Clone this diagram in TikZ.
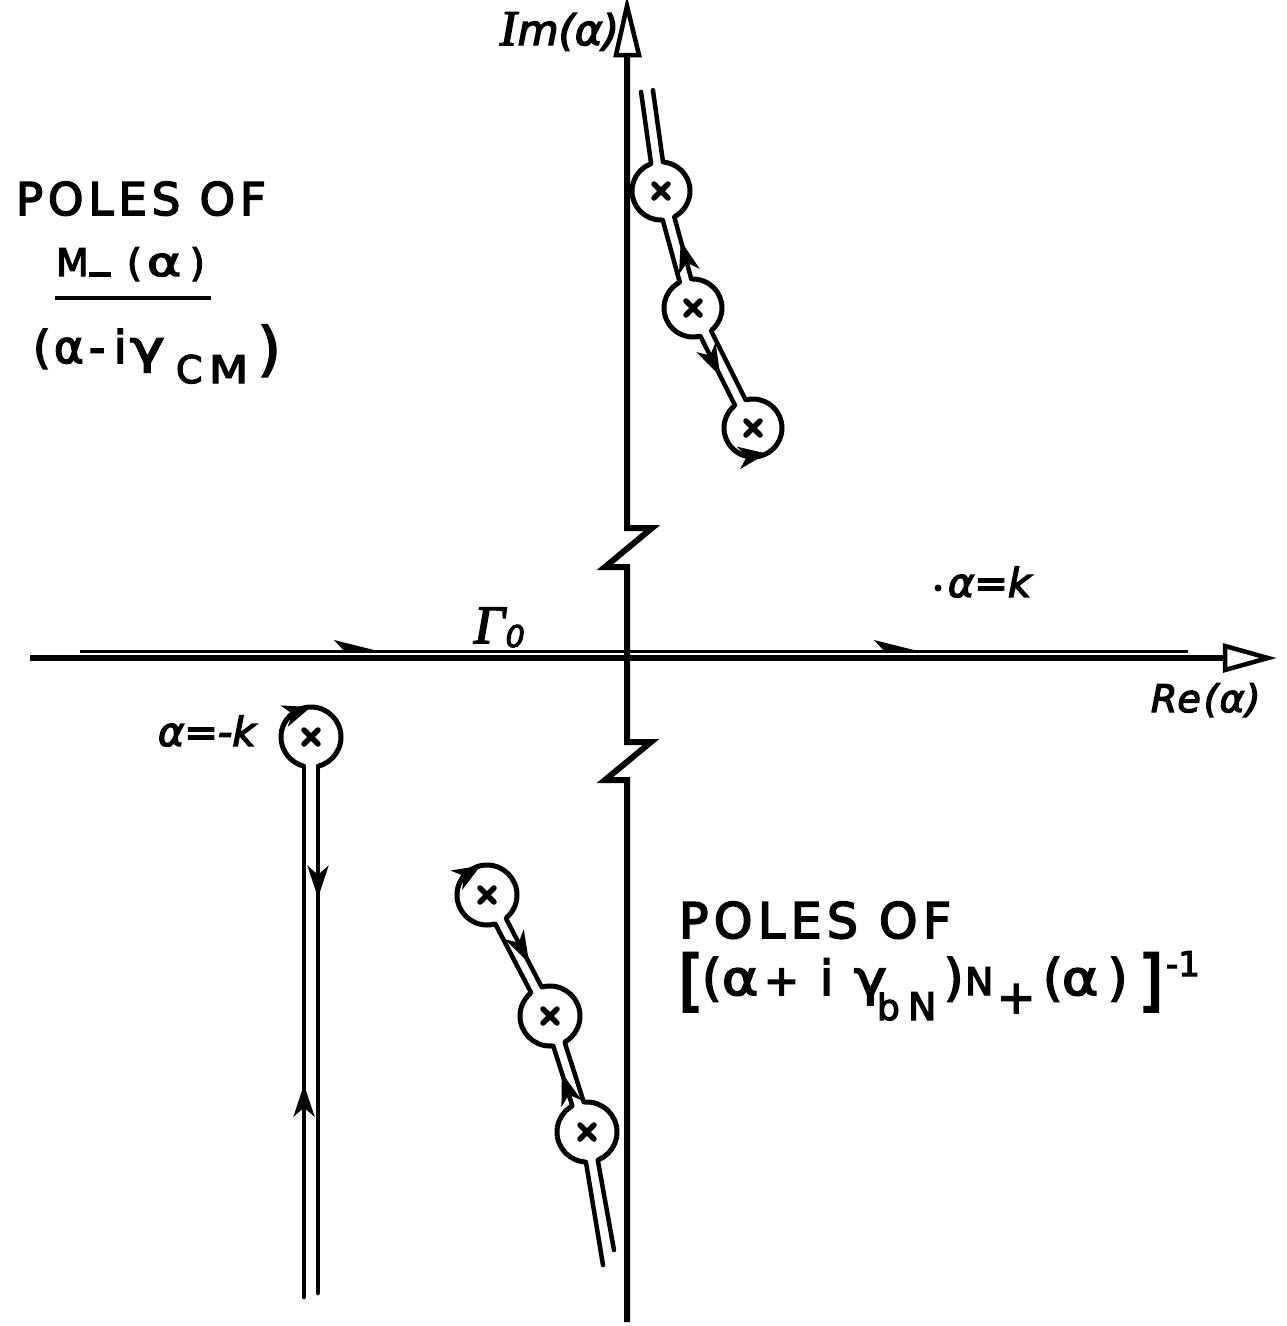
\documentclass[tikz,border=0pt]{standalone}
\usepackage{fontspec}
\usepackage{graphicx}
\usetikzlibrary{calc,arrows.meta,bending,decorations.markings}
\newfontfamily\lett[LetterSpace=11,FakeBold=3.5]{DejaVu Sans}
\newfontfamily\lsf[FakeBold=3.5]{DejaVu Sans}
\newfontfamily\lser[FakeBold=3]{Liberation Serif}
\newcommand\setfs[1]{\fontsize{#1}{#1}\selectfont}
\tikzset{
  ax/.style={line width=6pt},
  cont/.style={line width=4.5pt, line cap=round},
  ring/.style={line width=5pt},
  cut/.style={white, line width=12pt},
  xm/.style={line width=5.5pt, line cap=round},
  lbl/.style={inner sep=0pt, outer sep=0pt, anchor=base west},
  tipA/.style={-{Stealth[length=28pt,width=22pt,inset=8pt]}},
  midarr/.style={postaction={decorate}, decoration={markings, mark=at position #1 with {\arrow{Stealth[length=32pt,width=21pt,inset=9pt]}}}}
}
\begin{document}
\begin{tikzpicture}[x=1pt,y=-1pt]
\useasboundingbox (0,0) rectangle (1286,1326);
\fill[white] (0,0) rectangle (1286,1326);

% ---------- axes ----------
\coordinate (vtop) at (627,55);
\coordinate (vbot) at (627,1322);
\draw[ax, line join=miter] (vtop) -- (627,528) -- (652,528) -- (605,567) -- (627,567) -- (627,742) -- (651,742) -- (605,780) -- (627,780) -- (vbot);
\draw[line width=4.5pt, fill=white, line join=miter] (616,55) -- (627,6) -- (639,55) -- cycle;
\coordinate (hl) at (30,658);
\coordinate (hr) at (1225,658);
\draw[ax] (hl) -- (hr);
\draw[line width=4.5pt, fill=white, line join=miter] (1225,646) -- (1268,658) -- (1225,670) -- cycle;

% contour Gamma_0
\coordinate (g1) at (80,651);
\coordinate (g2) at (1188,651);
\draw[line width=3pt] (g1) -- (g2);
\fill (334,640) -- (378,651) -- (346,653) -- cycle;
\fill (874,640) -- (918,651) -- (886,653) -- cycle;

% ---------- upper chain ----------
\coordinate (S) at (647,91);
\coordinate (C1) at (661,191);
\coordinate (C2) at (693,308);
\coordinate (C3) at (753,428);
\foreach \c in {C1,C2,C3} \draw[ring] (\c) circle[radius=29];
\draw[cut] (S) -- (C1) -- (C2) -- (C3);
\draw[cont] ($(S)!6pt!90:(C1)$) -- ($(C1)!29pt!-11.94:(S)$);
\draw[cont] ($(S)!6pt!-90:(C1)$) -- ($(C1)!29pt!11.94:(S)$);
\draw[cont, midarr=0.62] ($(C2)!29pt!-11.94:(C1)$) -- ($(C1)!29pt!11.94:(C2)$);
\draw[cont] ($(C1)!29pt!-11.94:(C2)$) -- ($(C2)!29pt!11.94:(C1)$);
\draw[cont, midarr=0.58] ($(C2)!29pt!-11.94:(C3)$) -- ($(C3)!29pt!11.94:(C2)$);
\draw[cont] ($(C2)!29pt!11.94:(C3)$) -- ($(C3)!29pt!-11.94:(C2)$);
\draw[cont, tipA] ($(C3)+(130:29)$) arc[start angle=130, end angle=62, radius=29];

% ---------- lower chain ----------
\coordinate (CA) at (487,895);
\coordinate (CB) at (550,1016);
\coordinate (CC) at (587,1132);
\coordinate (T) at (608,1258);
\coordinate (TL) at (603,1265);
\coordinate (TR) at (614,1250);
\foreach \c in {CA,CB,CC} \draw[ring] (\c) circle[radius=30];
\draw[cut] (T) -- (CC) -- (CB) -- (CA);
\draw[cont] ($(CC)!30pt!-11.54:(T)$) -- (TL);
\draw[cont] ($(CC)!30pt!11.54:(T)$) -- (TR);
\draw[cont, midarr=0.55] ($(CC)!30pt!11.54:(CB)$) -- ($(CB)!30pt!-11.54:(CC)$);
\draw[cont] ($(CC)!30pt!-11.54:(CB)$) -- ($(CB)!30pt!11.54:(CC)$);
\draw[cont, midarr=0.65] ($(CA)!30pt!11.54:(CB)$) -- ($(CB)!30pt!-11.54:(CA)$);
\draw[cont] ($(CA)!30pt!-11.54:(CB)$) -- ($(CB)!30pt!11.54:(CA)$);
\draw[cont, tipA] ($(CA)+(-178:30)$) arc[start angle=-178, end angle=-102, radius=30];

% ---------- alpha = -k keyhole ----------
\coordinate (K) at (311,737);
\coordinate (KL) at (304,1297);
\coordinate (KR) at (318,1293);
\draw[ring] (K) circle[radius=30];
\draw[white, line width=14pt] (K) -- (311,790);
\draw[cont, midarr=0.4] (KL) -- (304,766);
\draw[cont, midarr=0.25] (318,766) -- (KR);
\draw[cont, tipA] ($(K)+(-165:30)$) arc[start angle=-165, end angle=-90, radius=30];

% pole crosses
\foreach \c in {C1,C2,C3,CA,CB,CC,K}
  \draw[xm] ($(\c)+(-7,-7)$) -- ($(\c)+(7,7)$) ($(\c)+(-7,7)$) -- ($(\c)+(7,-7)$);

% ---------- labels ----------
\node[lbl] (imlab) at (500,45) {\lser\setfs{50}\itshape I\lsf\setfs{42}\itshape\kern1pt m(α)};
\node[lbl] (relab) at (1151,712) {\lsf\setfs{38}\itshape Re\kern3pt(\kern1pt α\kern1pt)};
\node[lbl] (aklab) at (948,597) {\lsf\setfs{40}\itshape α=k};
\fill (938,588) circle[radius=3.5];
\node[lbl] (mklab) at (158,746) {\lsf\setfs{40}\itshape α=-k};
\node[lbl] (gam) at (474,643) {\lser\setfs{54}\itshape Γ\kern1pt\raisebox{-4pt}{\lsf\setfs{30}\itshape 0}};

% left label
\node[lbl] (polesL) at (16,215) {\lett\setfs{45}POLES OF};
\node[lbl] (numM) at (56,276) {\lsf\setfs{38}M};
\fill (89,272) rectangle (111,277);
\node[lbl] (numP1) at (127,276) {\lsf\setfs{38}(};
\node[lbl] (numA) at (147,276) {\lsf\setfs{40}\scalebox{1.3}[1]{α}};
\node[lbl] (numP2) at (190,276) {\lsf\setfs{38})};
\draw[line width=4.5pt] (55,298) -- (211,298);
\node[lbl] (dP1) at (33,363) {\lsf\setfs{45}(};
\node[lbl] (dA) at (54,363) {\lsf\setfs{45}α};
\node[lbl] (dH) at (89,363) {\lsf\setfs{45}-};
\node[lbl] (dI) at (114,363) {\lsf\setfs{45}i};
\node[lbl] (dG) at (130,363) {\lsf\setfs{45}\scalebox{1.3}[1]{γ}};
\node[lbl] (dC) at (176,383) {\lsf\setfs{38}C};
\node[lbl] (dM) at (209,383) {\lsf\setfs{38}\scalebox{1.2}[1]{M}};
\node[lbl] (dP2) at (258,369) {\lsf\setfs{58})};

% right label
\node[lbl] (polesR) at (679,938) {\lett\setfs{49}POLES OF};
\node[lbl] (rb1) at (678,1003) {\lsf\setfs{66}[};
\node[lbl] (rp1) at (702,995) {\lsf\setfs{50}(};
\node[lbl] (ra1) at (722,995) {\lsf\setfs{48}\scalebox{1.15}[1]{α}};
\node[lbl] (rpl) at (764,995) {\lsf\setfs{42}+};
\node[lbl] (ri) at (820,995) {\lsf\setfs{48}i};
\node[lbl] (rg) at (854,995) {\lsf\setfs{48}\scalebox{1.15}[1]{γ}};
\node[lbl] (rsb) at (877,1020) {\lsf\setfs{36}b};
\node[lbl] (rsN) at (908,1020) {\lsf\setfs{38}N};
\node[lbl] (rp2) at (944,995) {\lsf\setfs{50})};
\node[lbl] (rN) at (965,995) {\lsf\setfs{38}N};
\node[lbl] (rsp) at (997,1013) {\lsf\setfs{46}+};
\node[lbl] (rp3) at (1043,995) {\lsf\setfs{50}(};
\node[lbl] (ra2) at (1062,995) {\lsf\setfs{48}\scalebox{1.15}[1]{α}};
\node[lbl] (rp4) at (1108,995) {\lsf\setfs{50})};
\node[lbl] (rb2) at (1138,1003) {\lsf\setfs{66}]};
\node[lbl] (rsup) at (1166,976) {\lsf\setfs{34}-1};
\end{tikzpicture}
\end{document}
